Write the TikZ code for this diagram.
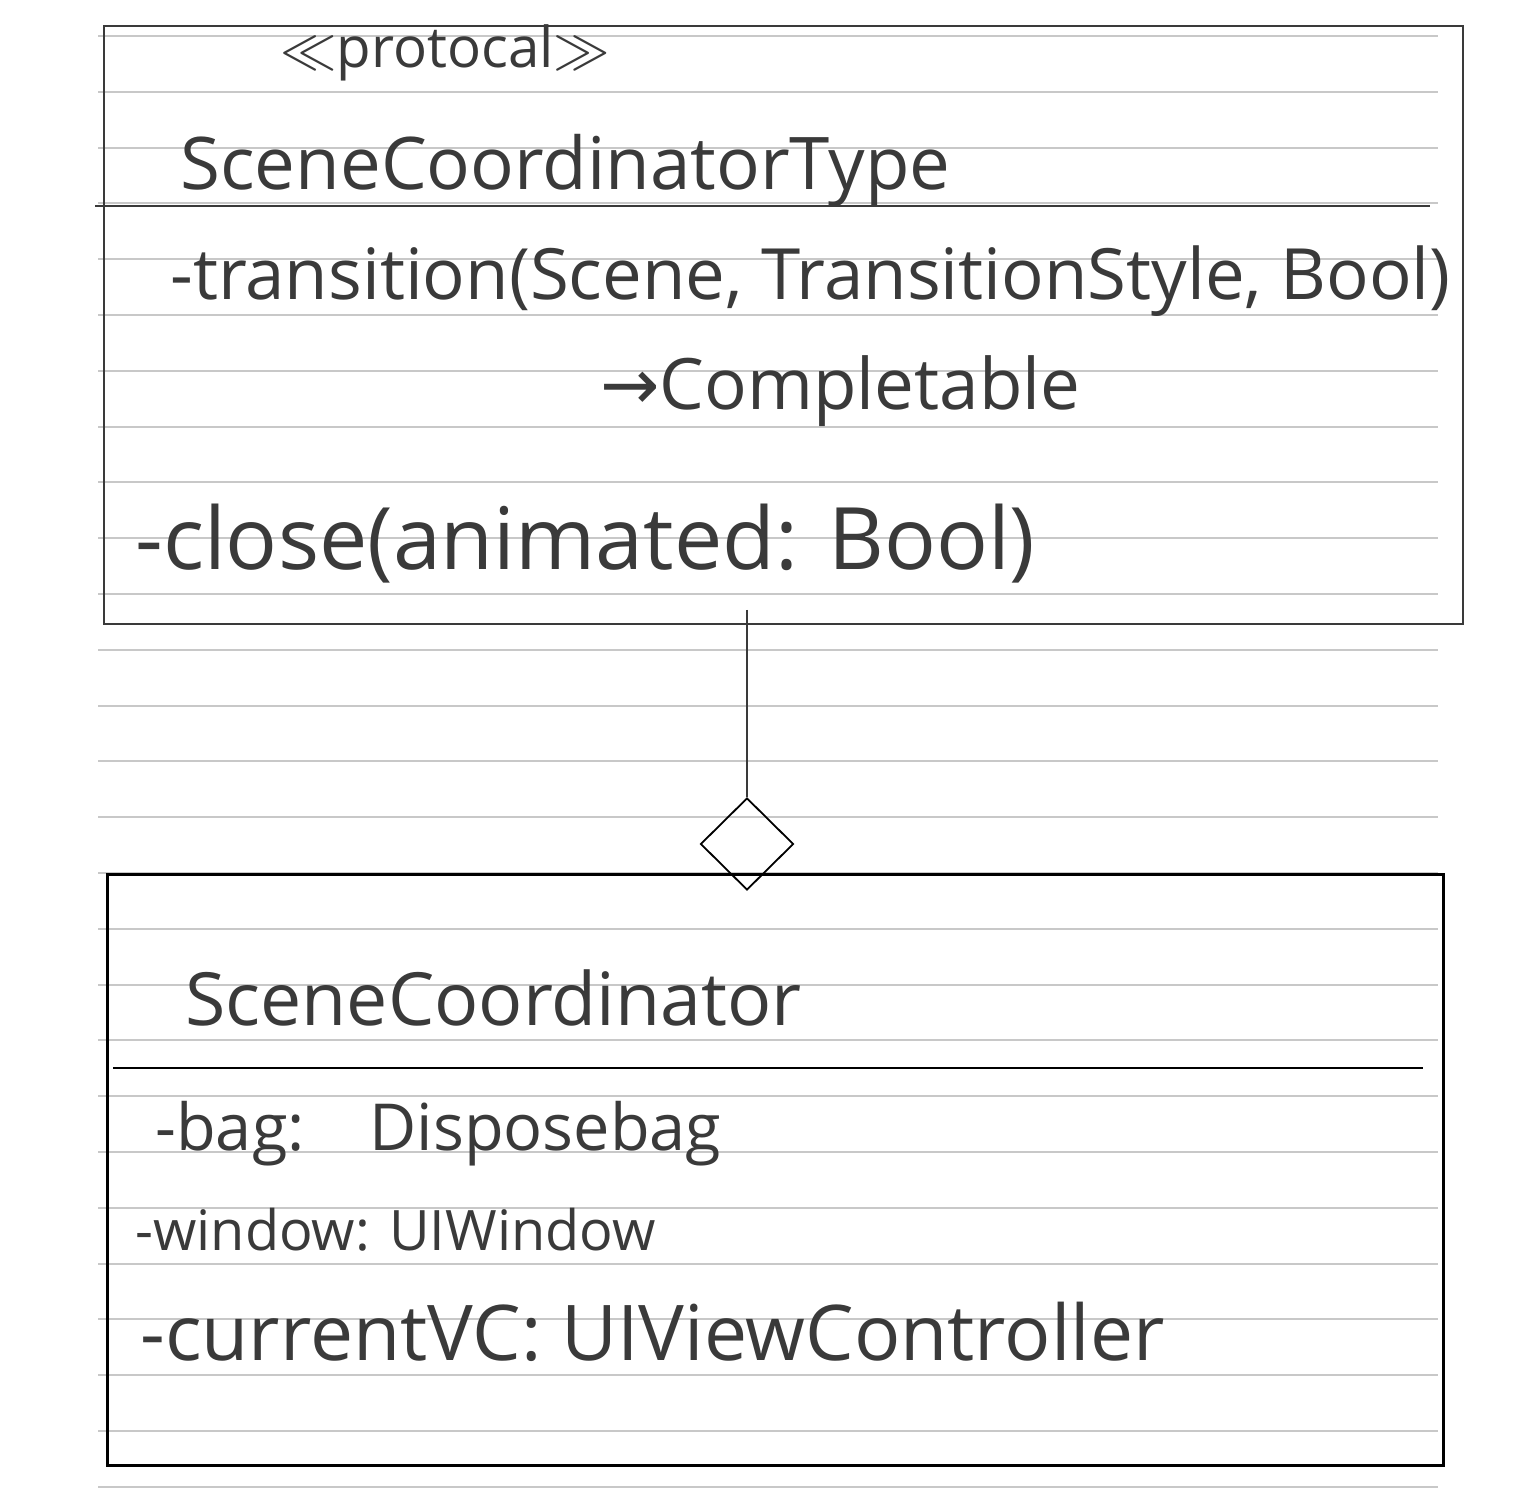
\documentclass[tikz,border=0pt]{standalone}
\usepackage{graphicx}
\usepackage{fontspec}
\setmainfont{Open Sans}
\newfontfamily\symfont{DejaVu Sans}
\usetikzlibrary{shapes.geometric}
\definecolor{rule}{HTML}{C8C8C8}
\definecolor{pen}{HTML}{3A3A3A}
\newcommand{\fitw}[2]{\resizebox{#1}{!}{#2}}
\tikzset{
  ruleline/.style={draw=rule, line width=1pt},
  sketchbox/.style={draw=pen, line width=1.1pt, rectangle, inner sep=0pt},
  solidbox/.style={draw=black, line width=1.5pt, rectangle, inner sep=0pt},
  hand/.style={anchor=base west, inner sep=0pt, text=pen},
  aggdiamond/.style={draw=black, line width=0.9pt, diamond, aspect=1, inner sep=0pt, minimum width=46.5pt, minimum height=46pt},
  conn/.style={draw=pen, line width=0.8pt}
}
\begin{document}
\begin{tikzpicture}[x=0.5pt,y=-0.5pt]
\useasboundingbox (0,0) rectangle (1536,1507);
\fill[white] (0,0) rectangle (1536,1507);
% ruled paper
\foreach \k in {0,...,26}{
  \draw[ruleline] (98,36+55.8*\k) -- (1438,36+55.8*\k);
}
% boxes
\node[sketchbox, minimum width=679.5pt, minimum height=299pt] (top) at (783.5,325) {};
\node[solidbox, minimum width=668pt, minimum height=295.5pt] (bottom) at (775,1169.5) {};
\coordinate (tdl) at (95,206);
\coordinate (tdr) at (1430,206);
\draw[draw=pen, line width=1.1pt] (tdl) -- (tdr);
\coordinate (bdl) at (113,1068);
\coordinate (bdr) at (1423,1068);
\draw[draw=black, line width=1pt] (bdl) -- (bdr);
% aggregation
\node[aggdiamond] (agg) at (747,844) {};
\coordinate (cstart) at (747,610);
\draw[conn] (cstart) -- (agg.north);
% texts
\node[hand] (stereo) at (280,68) {\fitw{165pt}{$\ll$protocal$\gg$}};
\node[hand] (tname) at (180,190) {\fitw{385pt}{SceneCoordinatorType}};
\node[hand] (m1) at (170,300) {\fitw{640pt}{-transition(Scene, TransitionStyle, Bool)}};
\node[hand] (m1r) at (600,410) {\fitw{240pt}{{\symfont →}Completable}};
\node[hand] (m2) at (135,570) {\fitw{450pt}{-close(animated: Bool)}};
\node[hand] (bname) at (185,1025) {\fitw{308pt}{SceneCoordinator}};
\node[hand] (a1) at (155,1150) {\fitw{283pt}{-bag:\quad Disposebag}};
\node[hand] (a2) at (135,1250) {\fitw{260pt}{-window: UIWindow}};
\node[hand] (a3) at (140,1360) {\fitw{512pt}{-currentVC: UIViewController}};
\end{tikzpicture}
\end{document}
